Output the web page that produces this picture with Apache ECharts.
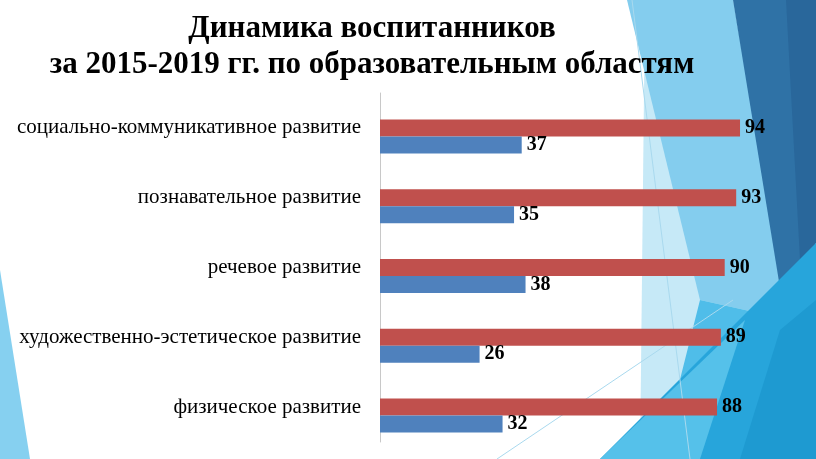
<!DOCTYPE html>
<html>
<head>
<meta charset="utf-8">
<script src="https://cdn.jsdelivr.net/npm/echarts@6/dist/echarts.min.js"></script>
<style>
  html, body { margin: 0; padding: 0; background: #ffffff; }
  #chart { width: 816px; height: 459px; }
</style>
</head>
<body>
<div id="chart"></div>
<script>
const categories = [
  'физическое развитие',
  'художественно-эстетическое развитие',
  'речевое развитие',
  'познавательное развитие',
  'социально-коммуникативное развитие'
];
const series2015 = [32, 26, 38, 35, 37];
const series2019 = [88, 89, 90, 93, 94];
const titleLines = ['Динамика воспитанников', 'за 2015-2019 гг. по образовательным областям'];

const chart = echarts.init(document.getElementById('chart'), null, { renderer: 'canvas' });

function poly(points, fill, z) {
  return { type: 'polygon', shape: { points: points }, style: { fill: fill }, silent: true, z: z };
}
function line(x1, y1, x2, y2, color) {
  return { type: 'line', shape: { x1: x1, y1: y1, x2: x2, y2: y2 }, style: { stroke: color, lineWidth: 1 }, silent: true, z: 1 };
}

const decoration = [
  poly([[0, 270], [30, 459], [0, 459]], '#86d0f0', 0),
  poly([[645, 0], [735, 0], [760, 459], [640, 459]], '#c6e9f7', 0),
  poly([[627, 0], [733, 0], [790, 320], [700, 300]], '#84cdee', 0),
  poly([[733, 0], [816, 0], [816, 243], [782, 300]], '#2f72a6', 0),
  poly([[786, 0], [816, 0], [816, 243], [800, 260]], '#29679b', 0),
  poly([[700, 300], [790, 320], [816, 243], [816, 459], [660, 459]], '#4fbde9', 0),
  poly([[816, 243], [816, 459], [600, 459]], '#27a5db', 0),
  poly([[600, 459], [745, 320], [700, 459]], '#55c1ea', 0),
  poly([[780, 330], [816, 300], [816, 459], [740, 459]], '#1e9ad1', 0),
  line(632, 0, 690, 459, '#a9d9ee'),
  line(497, 459, 733, 300, '#a9d9ee')
];

const valueLabel = {
  show: true,
  position: 'right',
  distance: 5,
  fontFamily: 'Liberation Serif',
  fontWeight: 'bold',
  fontSize: 20,
  color: '#000000'
};

chart.setOption({
  backgroundColor: '#ffffff',
  animation: false,
  graphic: decoration,
  title: {
    text: titleLines.join('\n'),
    left: 367,
    top: 6,
    textAlign: 'center',
    textStyle: {
      fontFamily: 'Liberation Serif',
      fontWeight: 'bold',
      fontSize: 31,
      lineHeight: 36,
      color: '#000000'
    }
  },
  grid: { left: 380, top: 93, width: 383, height: 349, containLabel: false },
  xAxis: {
    type: 'value',
    min: 0,
    max: 100,
    show: false
  },
  yAxis: {
    type: 'category',
    data: categories,
    axisLine: { show: true, lineStyle: { color: '#c8c8c8', width: 1 } },
    axisTick: { show: false },
    splitLine: { show: false },
    axisLabel: {
      margin: 19,
      fontFamily: 'Liberation Serif',
      fontSize: 21,
      color: '#000000'
    }
  },
  series: [
    {
      name: 'spacer',
      type: 'bar',
      data: [],
      barWidth: 17,
      barGap: '0%',
      silent: true
    },
    {
      name: '2019',
      type: 'bar',
      data: series2019,
      barWidth: 17,
      barGap: '0%',
      itemStyle: { color: '#c0504d' },
      label: valueLabel,
      z: 3
    },
    {
      name: '2015',
      type: 'bar',
      data: series2015,
      barWidth: 17,
      barGap: '0%',
      itemStyle: { color: '#4f81bd' },
      label: valueLabel,
      z: 3
    }
  ]
});
</script>
</body>
</html>
